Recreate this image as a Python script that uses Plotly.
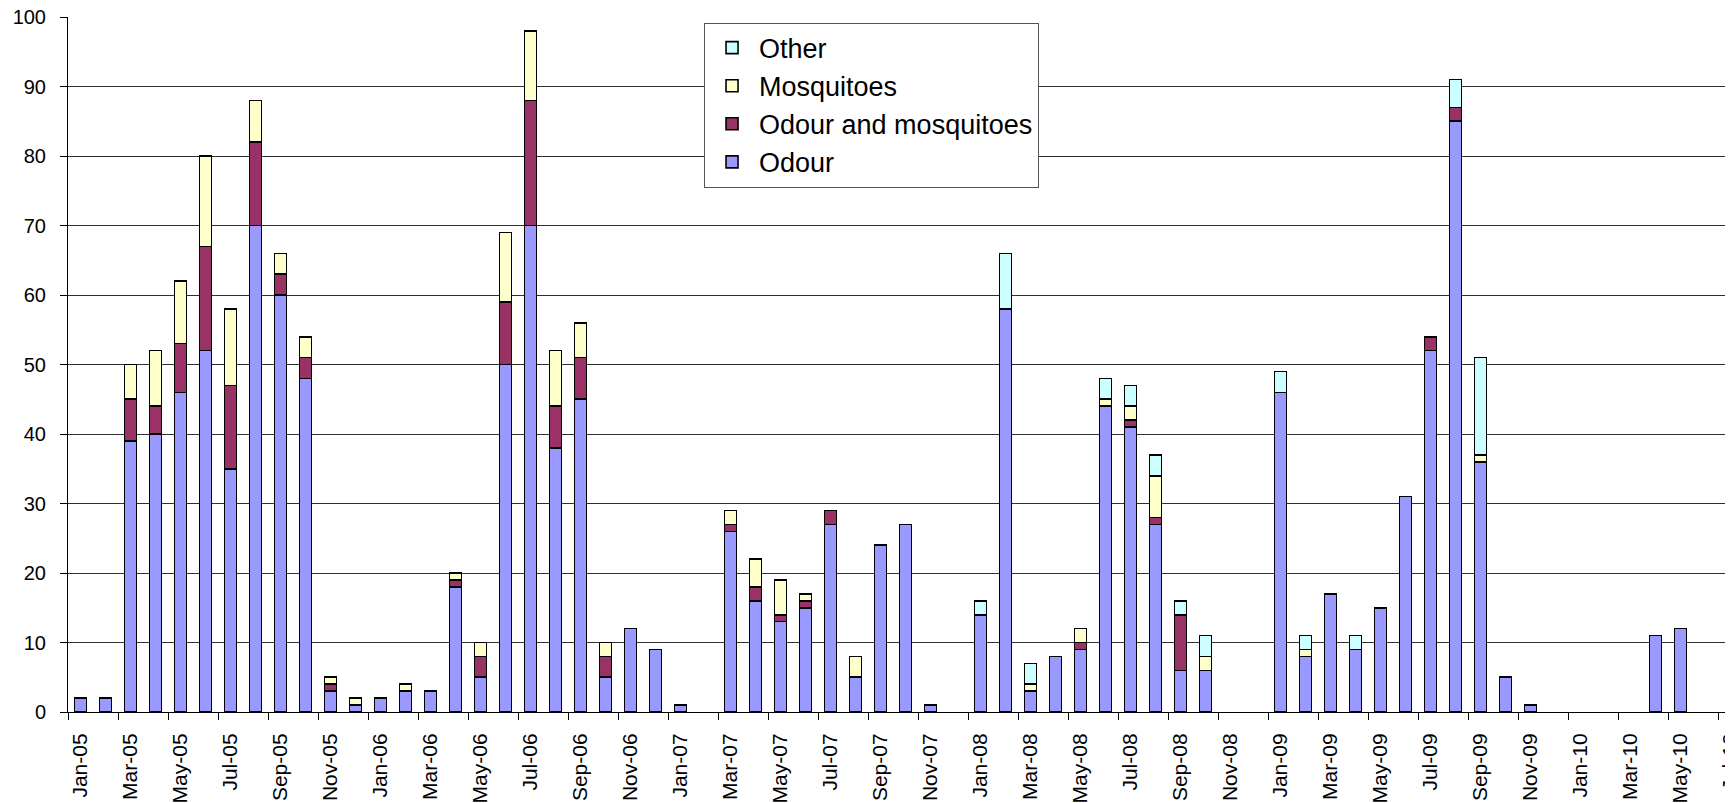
import plotly.graph_objects as go

months = ["Jan-05","Feb-05","Mar-05","Apr-05","May-05","Jun-05","Jul-05","Aug-05","Sep-05","Oct-05","Nov-05","Dec-05",
          "Jan-06","Feb-06","Mar-06","Apr-06","May-06","Jun-06","Jul-06","Aug-06","Sep-06","Oct-06","Nov-06","Dec-06",
          "Jan-07","Feb-07","Mar-07","Apr-07","May-07","Jun-07","Jul-07","Aug-07","Sep-07","Oct-07","Nov-07","Dec-07",
          "Jan-08","Feb-08","Mar-08","Apr-08","May-08","Jun-08","Jul-08","Aug-08","Sep-08","Oct-08","Nov-08","Dec-08",
          "Jan-09","Feb-09","Mar-09","Apr-09","May-09","Jun-09","Jul-09","Aug-09","Sep-09","Oct-09","Nov-09","Dec-09",
          "Jan-10","Feb-10","Mar-10","Apr-10","May-10","Jun-10","Jul-10"]

odour = [2,2,39,40,46,52,35,70,60,48,3,1,
         2,3,3,18,5,50,70,38,45,5,12,9,
         1,0,26,16,13,15,27,5,24,27,1,0,
         14,58,3,8,9,44,41,27,6,6,0,0,
         46,8,17,9,15,31,52,85,36,5,1,0,
         0,0,0,11,12,0,0]
odour_mosq = [0,0,6,4,7,15,12,12,3,3,1,0,
              0,0,0,1,3,9,18,6,6,3,0,0,
              0,0,1,2,1,1,2,0,0,0,0,0,
              0,0,0,0,1,0,1,1,8,0,0,0,
              0,0,0,0,0,0,2,2,0,0,0,0,
              0,0,0,0,0,0,0]
mosquitoes = [0,0,5,8,9,13,11,6,3,3,1,1,
              0,1,0,1,2,10,10,8,5,2,0,0,
              0,0,2,4,5,1,0,3,0,0,0,0,
              0,0,1,0,2,1,2,6,0,2,0,0,
              0,1,0,0,0,0,0,0,1,0,0,0,
              0,0,0,0,0,0,0]
other = [0,0,0,0,0,0,0,0,0,0,0,0,
         0,0,0,0,0,0,0,0,0,0,0,0,
         0,0,0,0,0,0,0,0,0,0,0,0,
         2,8,3,0,0,3,3,3,2,3,0,0,
         3,2,0,2,0,0,0,4,14,0,0,0,
         0,0,0,0,0,0,0]

tick_every = 2
x_idx = list(range(len(months)))
tickvals = x_idx[::tick_every]
ticktext = months[::tick_every]

series = [("Odour", odour, "#9999FF"),
          ("Odour and mosquitoes", odour_mosq, "#993366"),
          ("Mosquitoes", mosquitoes, "#FFFFCC"),
          ("Other", other, "#CCFFFF")]

fig = go.Figure()
for name, vals, col in series:
    fig.add_trace(go.Bar(x=x_idx, y=[v if v else None for v in vals], name=name,
                         marker=dict(color=col, line=dict(color="black", width=1.6))))

font_family = "Liberation Sans, Arial, sans-serif"
fig.update_layout(
    width=1725, height=795,
    barmode="stack", bargap=0.53,
    plot_bgcolor="white", paper_bgcolor="white",
    margin=dict(l=60, r=0, t=9, b=91),
    font=dict(family=font_family, color="black", size=20),
    showlegend=True,
    legend=dict(traceorder="reversed", x=0.382, y=0.992, xanchor="left", yanchor="top",
                bgcolor="white", bordercolor="#555555", borderwidth=1,
                font=dict(size=27, family=font_family), itemwidth=44,
                entrywidth=330, entrywidthmode="pixels",
                tracegroupgap=0),
    xaxis=dict(range=[-0.5, 66.1], tickmode="array", tickvals=tickvals, ticktext=ticktext,
               tickangle=-90, ticks="outside", ticklen=7, tickcolor="rgba(0,0,0,0)",
               showline=True, linecolor="black", linewidth=1, showgrid=False, zeroline=False,
               tickfont=dict(size=21), automargin=False, ticklabelstandoff=5,
               ticklabeloverflow="allow",
               minor=dict(tick0=-0.5, dtick=2, ticks="outside", ticklen=7, tickcolor="black",
                          showgrid=False)),
    yaxis=dict(range=[0, 100], tickmode="linear", tick0=0, dtick=10,
               ticks="outside", ticklen=7, tickcolor="black",
               showline=True, linecolor="black", linewidth=1,
               showgrid=True, gridcolor="#303030", gridwidth=1, zeroline=False,
               tickfont=dict(size=20), ticklabelstandoff=10, automargin=False,
               ticklabeloverflow="allow"),
)

fig.write_html("out.html")
